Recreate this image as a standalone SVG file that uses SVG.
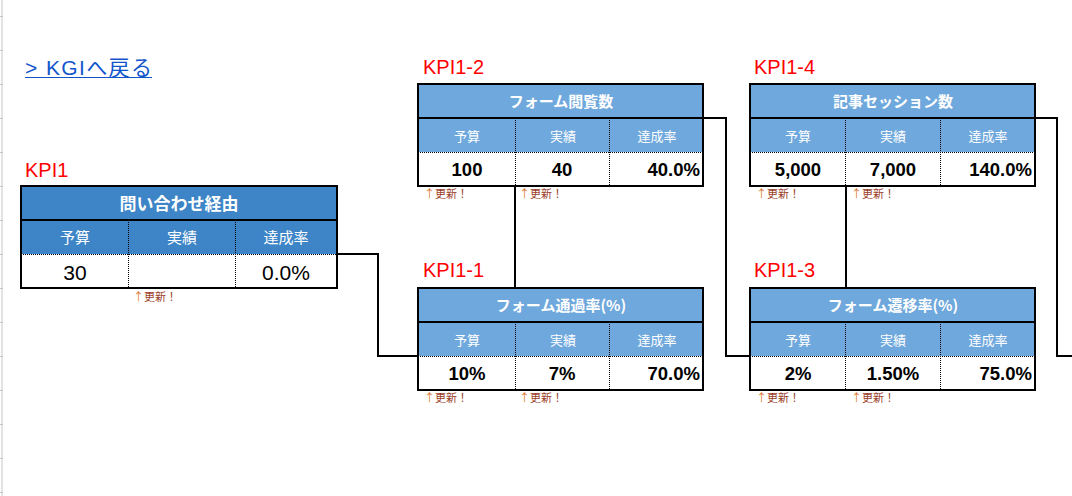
<svg xmlns="http://www.w3.org/2000/svg" width="1072" height="496" viewBox="0 0 1072 496">
<style>
.bg{fill:#ffffff}
.grid{stroke:#c8c8c8;stroke-width:1}
.t1{fill:#3d85c6}
.t2{fill:#6fa8dc}
.cell{fill:#ffffff}
.outer{fill:none;stroke:#000;stroke-width:2}
.sep{stroke:#000;stroke-width:2}
.dot{stroke:#000;stroke-width:1;stroke-dasharray:1 1}
.conn{fill:none;stroke:#000;stroke-width:2}
.lbl{font-family:"Liberation Sans","Noto Sans CJK JP",sans-serif;font-size:20px;fill:#ff0000}
.ttl{font-family:"Noto Sans CJK JP","Liberation Sans",sans-serif;font-weight:bold;fill:#ffffff;text-anchor:middle}
.hdr{font-family:"Noto Sans CJK JP","Liberation Sans",sans-serif;fill:#ffffff;text-anchor:middle}
.num{font-family:"Liberation Sans","Noto Sans CJK JP",sans-serif;fill:#000;text-anchor:middle}
.numb{font-family:"Liberation Sans","Noto Sans CJK JP",sans-serif;font-weight:bold;font-size:18.5px;fill:#000;text-anchor:middle}
.r{text-anchor:end}
.upd{font-family:"Noto Sans CJK JP",sans-serif;font-size:11px;fill:#9c3f2a}
.arw{fill:#d9782d}
.link{font-family:"Liberation Sans","Noto Sans CJK JP",sans-serif;font-size:21px;fill:#1155cc}
</style>
<rect class="bg" x="0" y="0" width="1072" height="496"/>
<g id="sheet-grid">
<line class="grid" x1="2" y1="0" x2="2" y2="496"/>
<path class="grid" d="M0 16.5H3M0 50.5H3M0 84.5H3M0 118.5H3M0 152.5H3M0 186.5H3M0 220.5H3M0 254.5H3M0 288.5H3M0 322.5H3M0 356.5H3M0 390.5H3M0 424.5H3M0 458.5H3M0 492.5H3"/>
</g>
<g id="link">
<text class="link" x="25" y="75" textLength="127" lengthAdjust="spacing">&gt; KGIへ戻る</text>
<line x1="25" y1="77.5" x2="152" y2="77.5" stroke="#1155cc" stroke-width="1.2"/>
</g>
<g id="connectors">
<polyline class="conn" points="337,254 378,254 378,356 418,356"/>
<polyline class="conn" points="515,186 515,288"/>
<polyline class="conn" points="703,118 726,118 726,356 750,356"/>
<polyline class="conn" points="846,186 846,288"/>
<polyline class="conn" points="1035,118 1057,118 1057,356 1072,356"/>
</g>
<g id="kpi1">
<text class="lbl" x="25" y="177">KPI1</text>
<rect class="t1" x="21" y="186" width="316" height="68"/>
<rect class="cell" x="21" y="254" width="316" height="34"/>
<line class="sep" x1="21" y1="220" x2="337" y2="220"/>
<line class="dot" x1="21" y1="254.5" x2="337" y2="254.5"/>
<line class="dot" x1="128.5" y1="220" x2="128.5" y2="288"/>
<line class="dot" x1="235.5" y1="220" x2="235.5" y2="288"/>
<rect class="outer" x="21" y="186" width="316" height="102"/>
<text class="ttl" x="179" y="210" font-size="17">問い合わせ経由</text>
<text class="hdr" x="75" y="243" font-size="15">予算</text>
<text class="hdr" x="182" y="243" font-size="15">実績</text>
<text class="hdr" x="286" y="243" font-size="15">達成率</text>
<text class="num" x="75" y="280" font-size="21">30</text>
<text class="num" x="286" y="280" font-size="21">0.0%</text>
<text class="upd" x="133" y="301"><tspan class="arw">↑</tspan>更新！</text>
</g>
<g id="kpi1-2">
<text class="lbl" x="423" y="74">KPI1-2</text>
<rect class="t2" x="418" y="84" width="285" height="68"/>
<rect class="cell" x="418" y="152" width="285" height="34"/>
<line class="sep" x1="418" y1="118" x2="703" y2="118"/>
<line class="dot" x1="418" y1="152.5" x2="703" y2="152.5"/>
<line class="dot" x1="515.5" y1="118" x2="515.5" y2="186"/>
<line class="dot" x1="609.5" y1="118" x2="609.5" y2="186"/>
<rect class="outer" x="418" y="84" width="285" height="102"/>
<text class="ttl" x="561" y="107" font-size="15">フォーム閲覧数</text>
<text class="hdr" x="467" y="141" font-size="13">予算</text>
<text class="hdr" x="563" y="141" font-size="13">実績</text>
<text class="hdr" x="657" y="141" font-size="13">達成率</text>
<text class="numb" x="467" y="176">100</text>
<text class="numb" x="562" y="176">40</text>
<text class="numb r" x="700" y="176">40.0%</text>
<text class="upd" x="424" y="198"><tspan class="arw">↑</tspan>更新！</text>
<text class="upd" x="519" y="198"><tspan class="arw">↑</tspan>更新！</text>
</g>
<g id="kpi1-1">
<text class="lbl" x="423" y="277">KPI1-1</text>
<rect class="t2" x="418" y="288" width="285" height="68"/>
<rect class="cell" x="418" y="356" width="285" height="34"/>
<line class="sep" x1="418" y1="322" x2="703" y2="322"/>
<line class="dot" x1="418" y1="356.5" x2="703" y2="356.5"/>
<line class="dot" x1="515.5" y1="322" x2="515.5" y2="390"/>
<line class="dot" x1="609.5" y1="322" x2="609.5" y2="390"/>
<rect class="outer" x="418" y="288" width="285" height="102"/>
<text class="ttl" x="561" y="311" font-size="15">フォーム通過率(%)</text>
<text class="hdr" x="467" y="345" font-size="13">予算</text>
<text class="hdr" x="563" y="345" font-size="13">実績</text>
<text class="hdr" x="657" y="345" font-size="13">達成率</text>
<text class="numb" x="467" y="380">10%</text>
<text class="numb" x="562" y="380">7%</text>
<text class="numb r" x="700" y="380">70.0%</text>
<text class="upd" x="424" y="402"><tspan class="arw">↑</tspan>更新！</text>
<text class="upd" x="519" y="402"><tspan class="arw">↑</tspan>更新！</text>
</g>
<g id="kpi1-4">
<text class="lbl" x="754" y="74">KPI1-4</text>
<rect class="t2" x="750" y="84" width="285" height="68"/>
<rect class="cell" x="750" y="152" width="285" height="34"/>
<line class="sep" x1="750" y1="118" x2="1035" y2="118"/>
<line class="dot" x1="750" y1="152.5" x2="1035" y2="152.5"/>
<line class="dot" x1="845.5" y1="118" x2="845.5" y2="186"/>
<line class="dot" x1="940.5" y1="118" x2="940.5" y2="186"/>
<rect class="outer" x="750" y="84" width="285" height="102"/>
<text class="ttl" x="893" y="107" font-size="15">記事セッション数</text>
<text class="hdr" x="798" y="141" font-size="13">予算</text>
<text class="hdr" x="893" y="141" font-size="13">実績</text>
<text class="hdr" x="988" y="141" font-size="13">達成率</text>
<text class="numb" x="798" y="176">5,000</text>
<text class="numb" x="893" y="176">7,000</text>
<text class="numb r" x="1032" y="176">140.0%</text>
<text class="upd" x="756" y="198"><tspan class="arw">↑</tspan>更新！</text>
<text class="upd" x="851" y="198"><tspan class="arw">↑</tspan>更新！</text>
</g>
<g id="kpi1-3">
<text class="lbl" x="754" y="277">KPI1-3</text>
<rect class="t2" x="750" y="288" width="285" height="68"/>
<rect class="cell" x="750" y="356" width="285" height="34"/>
<line class="sep" x1="750" y1="322" x2="1035" y2="322"/>
<line class="dot" x1="750" y1="356.5" x2="1035" y2="356.5"/>
<line class="dot" x1="845.5" y1="322" x2="845.5" y2="390"/>
<line class="dot" x1="940.5" y1="322" x2="940.5" y2="390"/>
<rect class="outer" x="750" y="288" width="285" height="102"/>
<text class="ttl" x="893" y="311" font-size="15">フォーム遷移率(%)</text>
<text class="hdr" x="798" y="345" font-size="13">予算</text>
<text class="hdr" x="893" y="345" font-size="13">実績</text>
<text class="hdr" x="988" y="345" font-size="13">達成率</text>
<text class="numb" x="798" y="380">2%</text>
<text class="numb" x="893" y="380">1.50%</text>
<text class="numb r" x="1032" y="380">75.0%</text>
<text class="upd" x="756" y="402"><tspan class="arw">↑</tspan>更新！</text>
<text class="upd" x="851" y="402"><tspan class="arw">↑</tspan>更新！</text>
</g>
</svg>
